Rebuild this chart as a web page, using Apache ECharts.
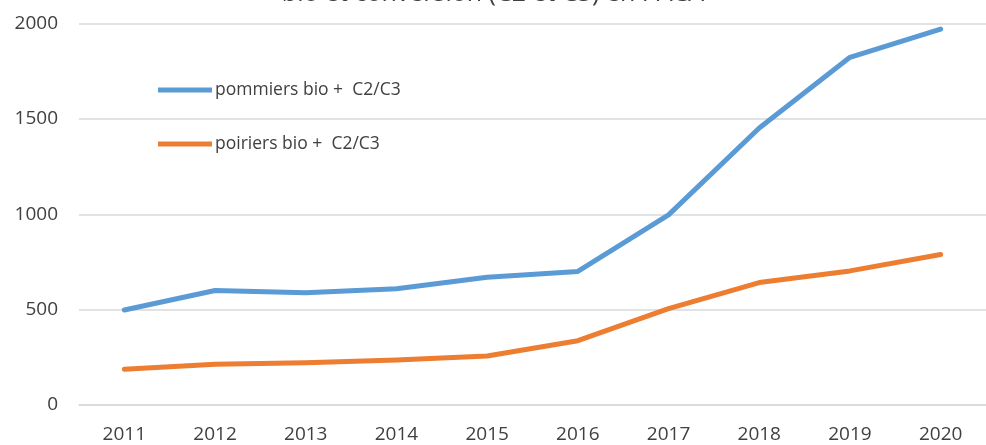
<!DOCTYPE html>
<html>
<head>
<meta charset="utf-8">
<script src="https://cdn.jsdelivr.net/npm/echarts@6/dist/echarts.min.js"></script>
<style>
html,body{margin:0;padding:0;background:#fff;}
#chart{width:986px;height:445px;}
</style>
</head>
<body>
<div id="chart"></div>
<script>
var titleText = 'bio et conversion (C2 et C3) en PACA';
var years = ['2011','2012','2013','2014','2015','2016','2017','2018','2019','2020'];
var pommiersName = 'pommiers bio +  C2/C3';
var poiriersName = 'poiriers bio +  C2/C3';
var pommiers = [498, 600, 589, 609, 670, 700, 997, 1452, 1823, 1971];
var poiriers = [187, 214, 222, 236, 257, 337, 505, 642, 703, 789];
var yTicks = { min: 0, max: 2000, interval: 500 };

var font = '"Open Sans", "Liberation Sans", sans-serif';
var chart = echarts.init(document.getElementById('chart'), null, {renderer: 'canvas'});
chart.setOption({
  animation: false,
  backgroundColor: '#ffffff',
  title: {
    text: titleText,
    left: 'center',
    top: -19,
    padding: 0,
    textStyle: { fontFamily: font, fontSize: 25, fontWeight: 'normal', color: '#404040', lineHeight: 25 }
  },
  legend: {
    orient: 'vertical',
    left: 158,
    top: 81,
    padding: 0,
    itemWidth: 54,
    itemHeight: 5,
    itemGap: 36,
    icon: 'path://M0,0 L54,0 L54,5 L0,5 Z',
    textStyle: { fontFamily: font, fontSize: 17.5, color: '#404040', padding: [0, 0, 0, -2] },
    data: [pommiersName, poiriersName]
  },
  grid: { left: 79, top: 23.5, width: 913, bottom: 40, containLabel: false },
  xAxis: {
    type: 'category',
    data: years,
    boundaryGap: true,
    axisLine: { show: true, lineStyle: { color: '#d9d9d9', width: 1.5 } },
    axisTick: { show: false },
    axisLabel: { fontFamily: font, fontSize: 19, color: '#404040', margin: 20 }
  },
  yAxis: {
    type: 'value',
    min: yTicks.min,
    max: yTicks.max,
    interval: yTicks.interval,
    axisLine: { show: false },
    axisTick: { show: false },
    axisLabel: { fontFamily: font, fontSize: 19, color: '#404040', margin: 21, formatter: function (v) { return String(v); } },
    splitLine: { show: true, lineStyle: { color: '#d9d9d9', width: 1.5 } }
  },
  series: [
    {
      name: pommiersName,
      type: 'line',
      data: pommiers,
      symbol: 'none',
      color: '#5b9bd5',
      lineStyle: { width: 5, color: '#5b9bd5', cap: 'round', join: 'round' }
    },
    {
      name: poiriersName,
      type: 'line',
      data: poiriers,
      symbol: 'none',
      color: '#ed7d31',
      lineStyle: { width: 5, color: '#ed7d31', cap: 'round', join: 'round' }
    }
  ]
});
</script>
</body>
</html>
